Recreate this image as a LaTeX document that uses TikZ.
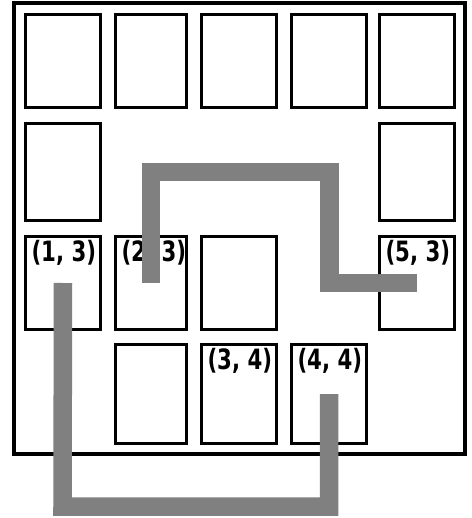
\documentclass[tikz,border=0pt]{standalone}
\usepackage{fontspec}
\usepackage{graphicx}
\newfontfamily\lblfont{DejaVu Sans}
\begin{document}
\begin{tikzpicture}[x=1pt,y=-1pt,
  box/.style={draw=black, line width=3.6pt, fill=white, rectangle, inner sep=0pt, outer sep=0pt},
  frm/.style={draw=black, line width=4pt, rectangle, inner sep=0pt, outer sep=0pt},
  lbl/.style={anchor=north west, inner sep=0pt, outer sep=0pt, font=\lblfont\bfseries\fontsize{28}{30}\selectfont},
  wire/.style={draw=gray, line width=18.5pt, line cap=butt, line join=miter}]
\useasboundingbox (0,0) rectangle (471,518);
\node[frm, minimum width=451pt, minimum height=450.5pt] (frame) at (239.5,228.75) {};
% row 1
\node[box, minimum width=75pt, minimum height=93pt] (b11) at (63,61) {};
\node[box, minimum width=71pt, minimum height=93pt] (b21) at (151,61) {};
\node[box, minimum width=75pt, minimum height=93pt] (b31) at (239,61) {};
\node[box, minimum width=75pt, minimum height=93pt] (b41) at (329,61) {};
\node[box, minimum width=75pt, minimum height=93pt] (b51) at (417,61) {};
% row 2
\node[box, minimum width=75pt, minimum height=97pt] (b12) at (63,172) {};
\node[box, minimum width=75pt, minimum height=97pt] (b52) at (417,172) {};
% row 3
\node[box, minimum width=75pt, minimum height=93pt] (b13) at (63,283) {};
\node[box, minimum width=71pt, minimum height=93pt] (b23) at (151,283) {};
\node[box, minimum width=75pt, minimum height=93pt] (b33) at (239,283) {};
\node[box, minimum width=75pt, minimum height=93pt] (b53) at (417,283) {};
% row 4
\node[box, minimum width=71pt, minimum height=99pt] (b24) at (151,394) {};
\node[box, minimum width=75pt, minimum height=99pt] (b34) at (239,394) {};
\node[box, minimum width=75pt, minimum height=99pt] (b44) at (329,394) {};
% labels
\node[lbl] (l13) at ([shift={(6,4)}]b13.north west) {\scalebox{0.76}[1]{(1, 3)}};
\node[lbl] (l23) at ([shift={(6,4)}]b23.north west) {\scalebox{0.76}[1]{(2, 3)}};
\node[lbl] (l53) at ([shift={(6,4)}]b53.north west) {\scalebox{0.76}[1]{(5, 3)}};
\node[lbl] (l34) at ([shift={(6,4)}]b34.north west) {\scalebox{0.76}[1]{(3, 4)}};
\node[lbl] (l44) at ([shift={(6,4)}]b44.north west) {\scalebox{0.76}[1]{(4, 4)}};
% paths
\coordinate (p1) at (329.5,172);
\coordinate (p2) at (62.5,506.5);
\draw[wire] (b23.center) |- (p1) -- (p1 |- b53.center) -- (b53.center);
\draw[wire] (b13.center) -- (p2) -| (b44.center);
\end{tikzpicture}
\end{document}
